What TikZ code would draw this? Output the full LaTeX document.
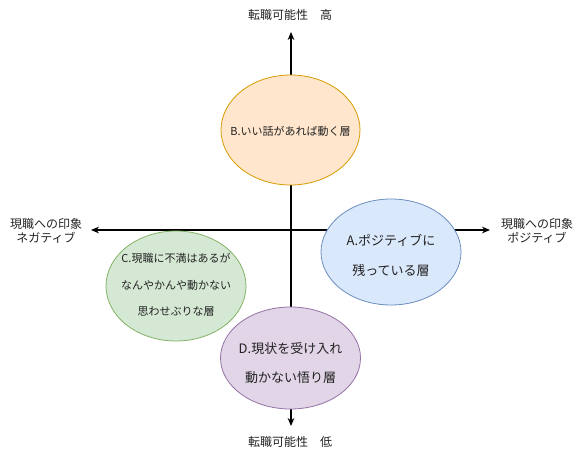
\documentclass[tikz,border=0pt]{standalone}
\usepackage{fontspec}
\setmainfont{Noto Sans CJK JP}
\usetikzlibrary{arrows.meta}
\definecolor{bfill}{HTML}{FFE6CC}\definecolor{bdraw}{HTML}{D79B00}
\definecolor{afill}{HTML}{DAE8FC}\definecolor{adraw}{HTML}{6C8EBF}
\definecolor{cfill}{HTML}{D5E8D4}\definecolor{cdraw}{HTML}{82B366}
\definecolor{dfill}{HTML}{E1D5E7}\definecolor{ddraw}{HTML}{9673A6}
\definecolor{txt}{HTML}{222222}
\begin{document}
\begin{tikzpicture}[x=0.75pt,y=-0.75pt,
  axis/.style={line width=0.8pt,-{Stealth[length=6pt,width=5pt]}},
  lbl/.style={font=\fontsize{9}{11}\selectfont,text=txt,align=center,inner sep=0pt},
  txtnode/.style={text=txt,align=center,inner sep=0pt}]
\useasboundingbox (0,0) rectangle (582,461);
\coordinate (o) at (291,230);
\coordinate (top) at (291,32);
\coordinate (bot) at (291,426);
\coordinate (lft) at (91,230);
\coordinate (rgt) at (490,230);
\draw[axis] (o) -- (top);
\draw[axis] (o) -- (bot);
\draw[axis] (o) -- (lft);
\draw[axis] (o) -- (rgt);
\node[lbl] (tl) at (290,15) {転職可能性　高};
\node[lbl] (bl) at (290,442) {転職可能性　低};
\node[lbl] (ll) at (46,231) {現職への印象\\ネガティブ};
\node[lbl] (rl) at (537,231) {現職への印象\\ポジティブ};
% ellipses
\draw[fill=bfill,draw=bdraw,line width=0.6pt] (290.5,130) ellipse [x radius=69.5,y radius=55];
\node[txtnode,font=\fontsize{8.25}{10}\selectfont] (b) at (290.5,131) {B.いい話があれば動く層};
\draw[fill=afill,draw=adraw,line width=0.6pt] (391,252) ellipse [x radius=70,y radius=53];
\node[txtnode,font=\fontsize{9.75}{22.5}\selectfont] (a) at (391,255) {A.ポジティブに\\残っている層};
\draw[fill=cfill,draw=cdraw,line width=0.6pt] (176,286) ellipse [x radius=70,y radius=55];
\node[txtnode,font=\fontsize{8.25}{20}\selectfont] (c) at (176,285) {C.現職に不満はあるが\\なんやかんや動かない\\思わせぶりな層};
\draw[fill=dfill,draw=ddraw,line width=0.6pt] (290.5,358) ellipse [x radius=70,y radius=51];
\node[txtnode,font=\fontsize{9.75}{22}\selectfont] (d) at (290.5,363) {D.現状を受け入れ\\動かない悟り層};
\end{tikzpicture}
\end{document}
